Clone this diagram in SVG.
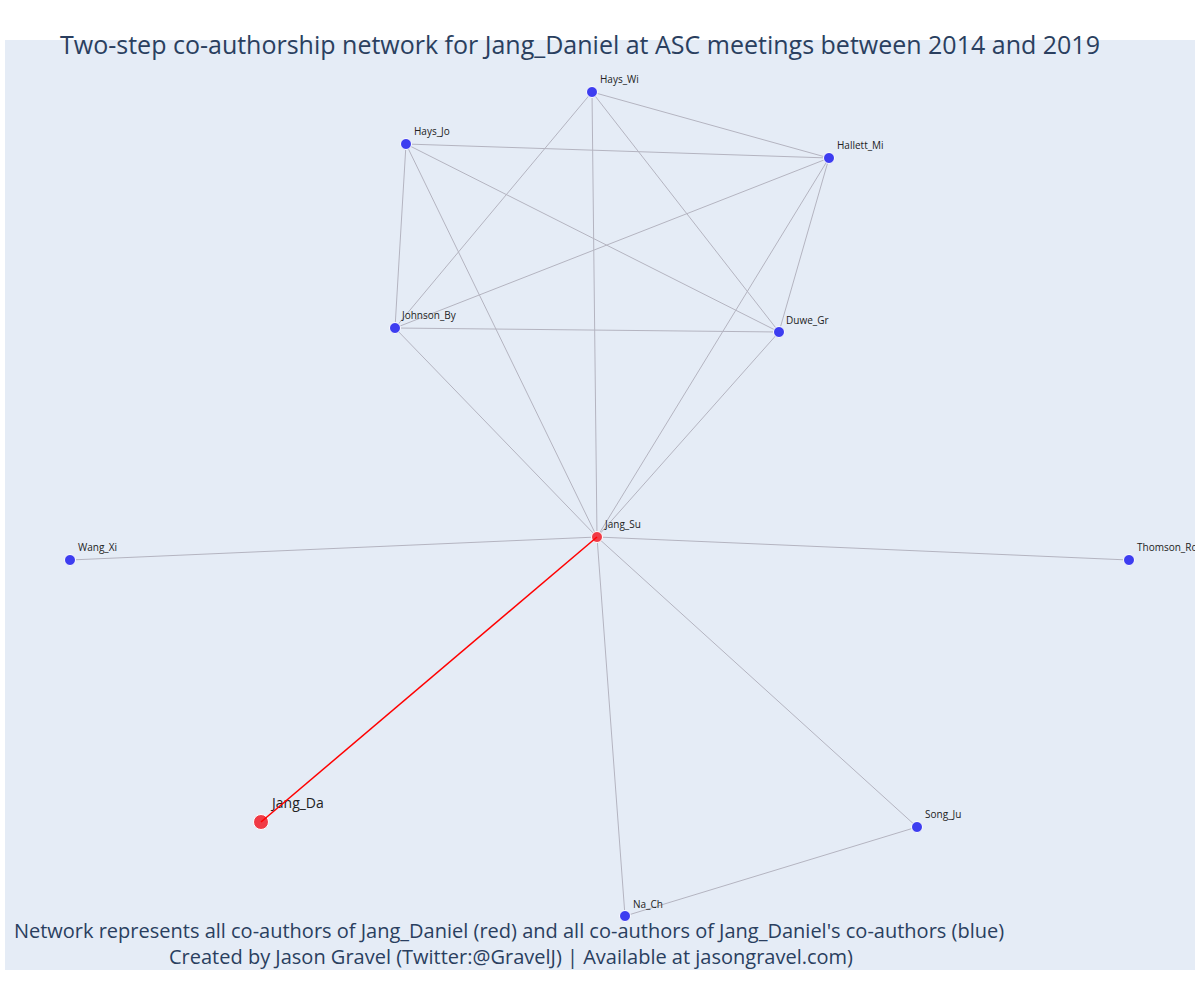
<svg xmlns="http://www.w3.org/2000/svg" width="1200" height="1000" viewBox="0 0 1200 1000">
<style>
.t{font-family:"Open Sans","Noto Sans","Liberation Sans",sans-serif;fill:#2a3f5f}
.lb{font-family:"Open Sans","Noto Sans","Liberation Sans",sans-serif;font-size:10px;fill:#222}
.e{stroke:#b4b4c0;stroke-width:1;fill:none}
.blue{fill:#3d3df0;stroke:#fff;stroke-width:1}
.red{fill:#f03a45;stroke:#fff;stroke-width:1}
</style>
<defs><clipPath id="plot"><rect x="5" y="40" width="1190" height="930"/></clipPath></defs>
<rect x="0" y="0" width="1200" height="1000" fill="#fff"/>
<rect x="5" y="40" width="1190" height="930" fill="#e5ecf6"/>
<g id="connectors">
<line class="e" x1="592" y1="92" x2="829" y2="158"/>
<line class="e" x1="592" y1="92" x2="395" y2="328"/>
<line class="e" x1="592" y1="92" x2="779" y2="332"/>
<line class="e" x1="592" y1="92" x2="597" y2="537"/>
<line class="e" x1="406" y1="144" x2="829" y2="158"/>
<line class="e" x1="406" y1="144" x2="395" y2="328"/>
<line class="e" x1="406" y1="144" x2="779" y2="332"/>
<line class="e" x1="406" y1="144" x2="597" y2="537"/>
<line class="e" x1="829" y1="158" x2="395" y2="328"/>
<line class="e" x1="829" y1="158" x2="779" y2="332"/>
<line class="e" x1="829" y1="158" x2="597" y2="537"/>
<line class="e" x1="395" y1="328" x2="779" y2="332"/>
<line class="e" x1="395" y1="328" x2="597" y2="537"/>
<line class="e" x1="779" y1="332" x2="597" y2="537"/>
<line class="e" x1="597" y1="537" x2="70" y2="560"/>
<line class="e" x1="597" y1="537" x2="1129" y2="560"/>
<line class="e" x1="597" y1="537" x2="917" y2="827"/>
<line class="e" x1="597" y1="537" x2="625" y2="916"/>
<line class="e" x1="917" y1="827" x2="625" y2="916"/>
</g>
<g clip-path="url(#plot)">
<g id="n-hays-wi"><circle class="blue" cx="592" cy="92" r="5.5"/><text class="lb" x="600" y="83">Hays_Wi</text></g>
<g id="n-hays-jo"><circle class="blue" cx="406" cy="144" r="5.5"/><text class="lb" x="414" y="135">Hays_Jo</text></g>
<g id="n-hallett-mi"><circle class="blue" cx="829" cy="158" r="5.5"/><text class="lb" x="837" y="149">Hallett_Mi</text></g>
<g id="n-johnson-by"><circle class="blue" cx="395" cy="328" r="5.5"/><text class="lb" x="402" y="319">Johnson_By</text></g>
<g id="n-duwe-gr"><circle class="blue" cx="779" cy="332" r="5.5"/><text class="lb" x="786" y="324">Duwe_Gr</text></g>
<g id="n-wang-xi"><circle class="blue" cx="70" cy="560" r="5.5"/><text class="lb" x="78" y="551">Wang_Xi</text></g>
<g id="n-thomson-ro"><circle class="blue" cx="1129" cy="560" r="5.5"/><text class="lb" x="1137" y="551">Thomson_Ro</text></g>
<g id="n-song-ju"><circle class="blue" cx="917" cy="827" r="5.5"/><text class="lb" x="925" y="818">Song_Ju</text></g>
<g id="n-na-ch"><circle class="blue" cx="625" cy="916" r="5.5"/><text class="lb" x="633" y="908">Na_Ch</text></g>
<g id="n-jang-su"><circle class="red" cx="597" cy="537" r="5.5"/><text class="lb" x="605" y="528">Jang_Su</text></g>
<g id="n-jang-da"><circle class="red" cx="261" cy="822" r="7.5"/><text class="lb" x="272" y="808" style="font-size:14px">Jang_Da</text></g>
</g>
<g id="red-connector"><line x1="261" y1="822" x2="597" y2="537" stroke="#ff0000" stroke-width="1.5"/></g>
<text class="t" x="580" y="54" text-anchor="middle" font-size="25">Two-step co-authorship network for Jang_Daniel at ASC meetings between 2014 and 2019</text>
<text class="t" x="509" y="938" text-anchor="middle" font-size="20">Network represents all co-authors of Jang_Daniel (red) and all co-authors of Jang_Daniel's co-authors (blue)</text>
<text class="t" x="511" y="964" text-anchor="middle" font-size="20">Created by Jason Gravel (Twitter:@GravelJ) | Available at jasongravel.com)</text>
</svg>
